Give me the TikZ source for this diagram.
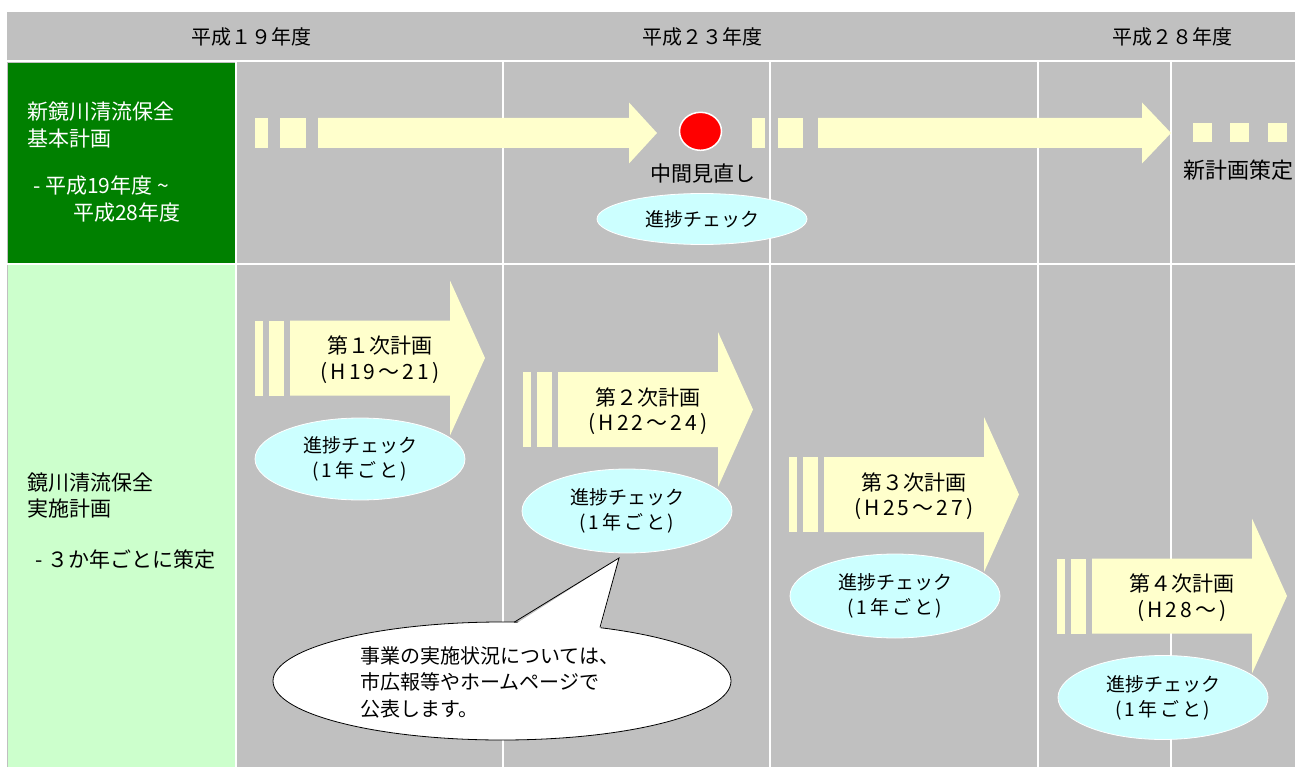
\documentclass[tikz,border=0pt]{standalone}
\usepackage{fontspec}
\setmainfont{Noto Sans CJK JP}
\newfontfamily\jpsp[LetterSpace=15]{Noto Sans CJK JP}
\usetikzlibrary{shapes.geometric}
\definecolor{cellgray}{HTML}{C0C0C0}
\definecolor{darkgreen}{HTML}{008000}
\definecolor{palegreen}{HTML}{CCFFCC}
\definecolor{arrowyellow}{HTML}{FFFFCC}
\definecolor{checkcyan}{HTML}{CCFFFF}
\definecolor{alertred}{HTML}{FF0000}
\tikzset{
  grid/.style={white, line width=2pt},
  arrowfill/.style={fill=arrowyellow},
  hdr/.style={inner sep=0pt, font=\fontsize{20}{25}\selectfont},
  sidetxt/.style={inner sep=0pt, anchor=west, font=\fontsize{21}{27}\selectfont},
  plantxt/.style={inner sep=0pt, align=center, font=\fontsize{21}{25.5}\selectfont},
  chk/.style={ellipse, fill=checkcyan, draw=white, line width=0.8pt, inner sep=0pt,
    minimum width=210pt, minimum height=84pt, align=center, font=\fontsize{19}{25}\selectfont},
  lbl/.style={inner sep=0pt, font=\fontsize{21}{25}\selectfont},
}
\newcommand\planarrow[2]{%
  \begin{scope}[shift={(#1,#2)}]
    \fill[arrowfill] (0,-37.5) rectangle (8,37.5);
    \fill[arrowfill] (14,-37.5) rectangle (29,37.5);
    \fill[arrowfill] (35,-37.5) -- (195,-37.5) -- (195,-77.5) -- (230,0)
      -- (195,77.5) -- (195,37.5) -- (35,37.5) -- cycle;
  \end{scope}}
\begin{document}
\begin{tikzpicture}[x=1pt,y=-1pt]
\useasboundingbox (0,0) rectangle (1295,767);
\fill[white] (0,0) rectangle (1295,767);
\fill[cellgray] (7,12) rectangle (1295,767);
% grid
\draw[grid] (7,61.5) -- (1295,61.5);
\draw[grid] (7,264.5) -- (1295,264.5);
\foreach \x in {236,503,770,1038,1171} \draw[grid] (\x,61.5) -- (\x,767);
% left column
\fill[darkgreen] (8,63) rectangle (235,263.5);
\fill[palegreen] (8,265.5) rectangle (235,767);
% header
\node[hdr] (h19) at (251,37) {平成１９年度};
\node[hdr] (h23) at (702,37) {平成２３年度};
\node[hdr] (h28) at (1172,37) {平成２８年度};
% side texts
\node[sidetxt, text=white] (g1) at (27,112) {新鏡川清流保全};
\node[sidetxt, text=white] (g2) at (27,139) {基本計画};
\node[sidetxt, text=white] (g3) at (33,186) {- 平成19年度 \textasciitilde};
\node[sidetxt, text=white] (g4) at (73,213) {平成28年度};
\node[sidetxt] (k1) at (27,483) {鏡川清流保全};
\node[sidetxt] (k2) at (27,509) {実施計画};
\node[sidetxt] (k3) at (35,560) {- ３か年ごとに策定};
% row 1: basic plan
\fill[arrowfill] (255,118) rectangle (268,148);
\fill[arrowfill] (280,118) rectangle (306,148);
\fill[arrowfill] (318,118) -- (629,118) -- (629,102.5) -- (657,133) -- (629,163.5) -- (629,148) -- (318,148) -- cycle;
\node[ellipse, fill=alertred, draw=white, line width=1.5pt, inner sep=0pt,
  minimum width=42pt, minimum height=38pt] (mid) at (700.5,131.3) {};
\node[lbl] (midlbl) at (703,174) {中間見直し};
\node[chk, minimum height=51pt] (chk0) at (702,219) {進捗チェック};
\fill[arrowfill] (752,118) rectangle (765,148);
\fill[arrowfill] (778,118) rectangle (803,148);
\fill[arrowfill] (818,118) -- (1142,118) -- (1142,102.5) -- (1171,133) -- (1142,163.5) -- (1142,148) -- (818,148) -- cycle;
\fill[arrowfill] (1193,123) rectangle (1212,142);
\fill[arrowfill] (1230,123) rectangle (1249,142);
\fill[arrowfill] (1268,123) rectangle (1287,142);
\node[lbl, anchor=west, font=\fontsize{22}{25}\selectfont] (newlbl) at (1183,170) {新計画策定};
% row 2: implementation plans
\planarrow{255}{358}
\planarrow{523}{409.5}
\planarrow{789}{494.5}
\planarrow{1057}{596}
\node[plantxt] (p1) at (380,359.5) {第１次計画\\{\jpsp (H19～21)}};
\node[plantxt] (p2) at (648,411) {第２次計画\\{\jpsp (H22～24)}};
\node[plantxt] (p3) at (914,496) {第３次計画\\{\jpsp (H25～27)}};
\node[plantxt] (p4) at (1182,597.5) {第４次計画\\{\jpsp (H28～)}};
\node[chk, minimum height=82pt] (c1) at (360,459) {進捗チェック\\{\jpsp (1年ごと)}};
\node[chk] (c2) at (627,511) {進捗チェック\\{\jpsp (1年ごと)}};
\node[chk] (c3) at (895,596) {進捗チェック\\{\jpsp (1年ごと)}};
\node[chk] (c4) at (1163,697.5) {進捗チェック\\{\jpsp (1年ごと)}};
% callout
\fill[white, draw=black, line width=0.8pt] (502,681) ellipse [x radius=229pt, y radius=59pt];
\coordinate (tip) at (619,558);
\coordinate (bl) at (514,622.3);
\coordinate (br) at (600,627.4);
\fill[white] (514,625) -- (tip) -- (600,630) -- cycle;
\draw[black, line width=0.8pt, line join=miter] (bl) -- (tip) -- (br);
\node[inner sep=0pt, anchor=west, align=left, font=\fontsize{20}{26.5}\selectfont]
  (note) at (360,682) {事業の実施状況については、\\市広報等やホームページで\\公表します。};
\end{tikzpicture}
\end{document}
